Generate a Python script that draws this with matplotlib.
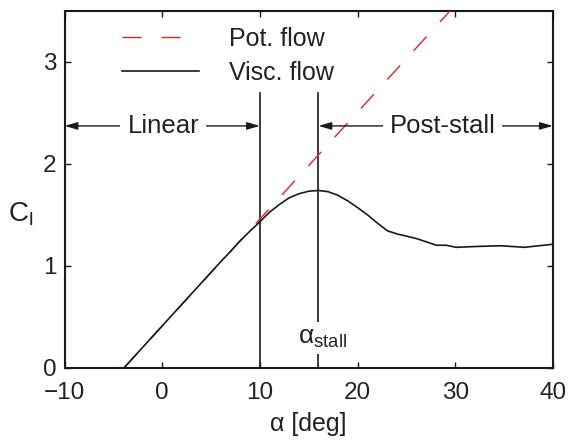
import numpy as np
import matplotlib
matplotlib.use("Agg")
import matplotlib.pyplot as plt

plt.rcParams["font.family"] = ["Liberation Sans", "DejaVu Sans"]
plt.rcParams["mathtext.fontset"] = "custom"
plt.rcParams["mathtext.rm"] = "Liberation Sans"
plt.rcParams["mathtext.it"] = "Liberation Sans"

# ── Data ────────────────────────────────────────────────────
# potential flow: straight line through the zero-lift angle
pot_alpha = [-3.9, 29.5]
pot_cl = [0.0, 3.5]

# viscous flow lift curve
visc_alpha = [-3.9, -2, 0, 2, 4, 6, 7, 8, 9, 10, 11, 12, 13, 14, 15, 16, 17, 18,
              19, 20, 21, 22, 23.1, 24.1, 26.0, 28.1, 29.1, 30.1, 32.7, 34.7, 37.1, 40]
visc_cl = [0.0, 0.20, 0.41, 0.62, 0.83, 1.04, 1.14, 1.245, 1.34, 1.43, 1.525, 1.60,
           1.665, 1.705, 1.73, 1.737, 1.725, 1.69, 1.635, 1.57, 1.50, 1.42, 1.34,
           1.31, 1.267, 1.20, 1.20, 1.18, 1.19, 1.195, 1.18, 1.21]

alpha_linear = 10
alpha_stall = 16
marker_top = 2.69
arrow_cl = 2.37

TXT = "#222222"
LINE = "#1a1a1a"

fig = plt.figure(figsize=(5.69, 4.43), dpi=100)
ax = fig.add_axes([0.1135, 0.170, 0.858, 0.806])

ax.plot(pot_alpha, pot_cl, color="#e8202a", linewidth=1.0,
        dashes=(13.7, 14.4), label="Pot. flow", zorder=3)
ax.plot(visc_alpha, visc_cl, color=LINE, linewidth=1.2,
        label="Visc. flow", zorder=4)

# region markers
ax.plot([alpha_linear, alpha_linear], [0, marker_top], color=LINE, linewidth=1.2)
ax.plot([alpha_stall, alpha_stall], [0, marker_top], color=LINE, linewidth=1.2)

arrow_kw = dict(arrowstyle="<|-|>,head_length=0.55,head_width=0.16",
                color=LINE, lw=1.0, shrinkA=0, shrinkB=0, mutation_scale=14)
ax.annotate("", xy=(-10, arrow_cl), xytext=(alpha_linear, arrow_cl), arrowprops=arrow_kw)
ax.annotate("", xy=(alpha_stall, arrow_cl), xytext=(40, arrow_cl), arrowprops=arrow_kw)

box = dict(facecolor="white", edgecolor="none", pad=5)
ax.text(0.1, arrow_cl, "Linear", ha="center", va="center", fontsize=18.5,
        color=TXT, bbox=box, zorder=5)
ax.text(28.7, arrow_cl, "Post-stall", ha="center", va="center", fontsize=18.5,
        color=TXT, bbox=box, zorder=5)
ax.text(16.4, 0.29, r"α$_{\mathrm{stall}}$", ha="center", va="center",
        fontsize=19, color=TXT, bbox=dict(facecolor="white", edgecolor="none", pad=3),
        zorder=5)

ax.set_xlim(-10, 40)
ax.set_ylim(0, 3.5)
ax.set_xticks([-10, 0, 10, 20, 30, 40])
ax.set_yticks([0, 1, 2, 3])
ax.tick_params(direction="in", length=4, width=1.0, top=True, right=True,
               labelsize=17.5, colors=LINE, labelcolor=TXT)
ax.tick_params(axis="x", pad=10)
ax.tick_params(axis="y", pad=6)
for s in ax.spines.values():
    s.set_linewidth(1.5)
    s.set_color(LINE)

ax.set_xlabel("α [deg]", fontsize=18, color=TXT, labelpad=6)
ax.text(-0.09, 0.43, r"C$_{\mathrm{l}}$", transform=ax.transAxes, fontsize=20,
        color=TXT, ha="center", va="center")

leg = ax.legend(loc="upper left", bbox_to_anchor=(0.117, 0.955), frameon=False,
                fontsize=18, handlelength=3.1, handletextpad=1.2,
                borderaxespad=0, borderpad=0, labelspacing=0.4)
for t in leg.get_texts():
    t.set_color(TXT)

fig.savefig("out.png", dpi=100)
